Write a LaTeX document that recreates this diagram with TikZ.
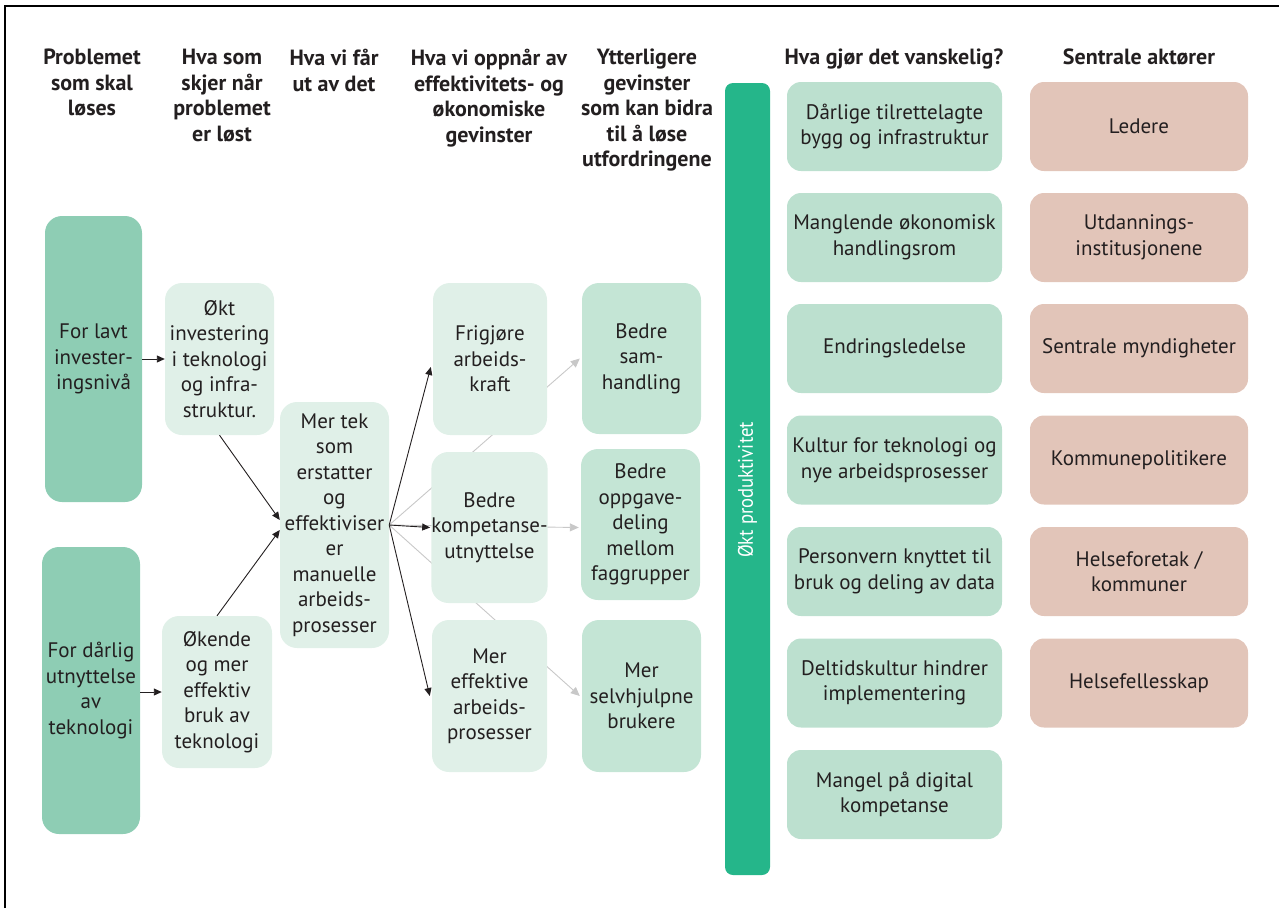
\documentclass[tikz,border=0pt]{standalone}
\usepackage{fontspec}
\setmainfont{PT Sans}
\usetikzlibrary{arrows.meta}
\definecolor{txt}{HTML}{231F20}
\definecolor{dkgreen}{HTML}{8ECDB4}
\definecolor{ltgreen}{HTML}{E0F0E8}
\definecolor{mdgreen}{HTML}{C4E5D5}
\definecolor{bargreen}{HTML}{25B68A}
\definecolor{hardgreen}{HTML}{BCE0CF}
\definecolor{rose}{HTML}{E2C5B9}
\definecolor{greyline}{HTML}{C8C8C8}
\pgfdeclarelayer{bg}
\pgfsetlayers{bg,main}
\tikzset{
  box/.style={rounded corners=17pt, align=center, text=txt, inner sep=0pt,
    font=\fontsize{21}{25.5}\selectfont},
  head/.style={align=center, text=txt, inner sep=0pt, anchor=north,
    font=\fontsize{22}{25.5}\selectfont\bfseries},
  arr/.style={draw=txt, line width=0.9pt, -{Triangle[length=8pt,width=7pt]}},
  garr/.style={draw=greyline, line width=0.9pt, -{Triangle[length=9pt,width=8pt]}},
}
\begin{document}
\begin{tikzpicture}[x=1pt,y=-1pt]
\useasboundingbox (0,0) rectangle (1279,908);
\draw[line width=2pt] (5,908) -- (5,6) -- (1279,6);

% headers
\node[head] (h1) at (92,49) {Problemet\\som skal\\løses};
\node[head] (h2) at (222,49) {Hva som\\skjer når\\problemet\\er løst};
\node[head] (h3) at (334,49) {Hva vi får\\ut av det};
\node[head] (h4) at (489,49) {Hva vi oppnår av\\effektivitets- og\\økonomiske\\gevinster};
\node[head] (h5) at (647,49) {Ytterligere\\gevinster\\som kan bidra\\til å løse\\utfordringene};
\node[head] (h6) at (894,49) {Hva gjør det vanskelig?};
\node[head] (h7) at (1139,49) {Sentrale aktører};

% column 1
\node[box, fill=dkgreen, minimum width=97pt, minimum height=286pt] (lavt) at (93.5,359) {For lavt\\invester-\\ingsnivå};
\node[box, fill=dkgreen, minimum width=98pt, minimum height=287pt] (darlig) at (91,690.5) {For dårlig\\utnyttelse\\av\\teknologi};
% column 2
\node[box, fill=ltgreen, minimum width=109pt, minimum height=152pt] (okt) at (219.5,359) {Økt\\investering\\i teknologi\\og infra-\\struktur.};
\node[box, fill=ltgreen, minimum width=110pt, minimum height=152pt] (okende) at (217,692) {Økende\\og mer\\effektiv\\bruk av\\teknologi};
% column 3
\node[box, fill=ltgreen, minimum width=109pt, minimum height=246pt] (mertek) at (334.5,525) {Mer tek\\som\\erstatter\\og\\effektiviser\\er\\manuelle\\arbeids-\\prosesser};
% column 4
\node[box, fill=ltgreen, minimum width=114pt, minimum height=152pt] (frig) at (490,359) {Frigjøre\\arbeids-\\kraft};
\node[box, fill=ltgreen, minimum width=115pt, minimum height=151pt] (komp) at (489.5,527.5) {Bedre\\kompetanse-\\utnyttelse};
\node[box, fill=ltgreen, minimum width=115pt, minimum height=152pt] (eff) at (489.5,696) {Mer\\effektive\\arbeids-\\prosesser};
% column 5
\node[box, fill=mdgreen, minimum width=119pt, minimum height=151pt] (samh) at (641.5,358.5) {Bedre\\sam-\\handling};
\node[box, fill=mdgreen, minimum width=119pt, minimum height=151pt] (oppg) at (640.5,524.5) {Bedre\\oppgave-\\deling\\mellom\\faggrupper};
\node[box, fill=mdgreen, minimum width=119pt, minimum height=152pt] (selv) at (641.5,696) {Mer\\selvhjulpne\\brukere};
% bar
\node[box, rounded corners=8pt, fill=bargreen, minimum width=45pt, minimum height=792pt] (bar) at (747.5,479) {};
\node[text=white, rotate=90, inner sep=0pt, font=\fontsize{21}{24}\selectfont] (bartxt) at (747.5,490) {\scalebox{0.89}[1]{Økt produktivitet}};

% column 7
\node[box, rounded corners=14pt, fill=hardgreen, minimum width=215pt, minimum height=89pt] (v1) at (894.5,126.5) {Dårlige tilrettelagte\\bygg og infrastruktur};
\node[box, rounded corners=14pt, fill=hardgreen, minimum width=215pt, minimum height=89pt] (v2) at (894.5,237.5) {Manglende økonomisk\\handlingsrom};
\node[box, rounded corners=14pt, fill=hardgreen, minimum width=215pt, minimum height=89pt] (v3) at (894.5,348.5) {Endringsledelse};
\node[box, rounded corners=14pt, fill=hardgreen, minimum width=215pt, minimum height=89pt] (v4) at (894.5,460) {Kultur for teknologi og\\nye arbeidsprosesser};
\node[box, rounded corners=14pt, fill=hardgreen, minimum width=215pt, minimum height=89pt] (v5) at (894.5,571.5) {Personvern knyttet til\\bruk og deling av data};
\node[box, rounded corners=14pt, fill=hardgreen, minimum width=215pt, minimum height=89pt] (v6) at (894.5,683) {Deltidskultur hindrer\\implementering};
\node[box, rounded corners=14pt, fill=hardgreen, minimum width=215pt, minimum height=89pt] (v7) at (894.5,794.5) {Mangel på digital\\kompetanse};
% column 8
\node[box, rounded corners=14pt, fill=rose, minimum width=218pt, minimum height=89pt] (a1) at (1139,126.5) {Ledere};
\node[box, rounded corners=14pt, fill=rose, minimum width=218pt, minimum height=89pt] (a2) at (1139,237.5) {Utdannings-\\institusjonene};
\node[box, rounded corners=14pt, fill=rose, minimum width=218pt, minimum height=89pt] (a3) at (1139,348.5) {Sentrale myndigheter};
\node[box, rounded corners=14pt, fill=rose, minimum width=218pt, minimum height=89pt] (a4) at (1139,460) {Kommunepolitikere};
\node[box, rounded corners=14pt, fill=rose, minimum width=218pt, minimum height=89pt] (a5) at (1139,571.5) {Helseforetak /\\kommuner};
\node[box, rounded corners=14pt, fill=rose, minimum width=218pt, minimum height=89pt] (a6) at (1139,683) {Helsefellesskap};

% grey arrows behind boxes
\begin{pgfonlayer}{bg}
\draw[garr] (mertek.east) -- ([xshift=-2pt]samh.west);
\draw[garr] (mertek.east) -- ([xshift=-2pt]oppg.west |- komp.west);
\draw[garr] (mertek.east) -- ([xshift=-2pt]selv.west);
\end{pgfonlayer}

% black arrows
\draw[arr] (lavt.east) -- (okt.west);
\draw[arr] (okende.west -| darlig.east) -- (okende.west);
\draw[arr] (okt.south) -- ([yshift=5pt]mertek.west);
\draw[arr] (okende.north) -- ([yshift=-5pt]mertek.west);
\draw[arr] (mertek.east) -- ([yshift=-8pt,xshift=-2pt]frig.west);
\draw[arr] (mertek.east) -- ([xshift=-1pt]komp.west);
\draw[arr] (mertek.east) -- ([xshift=-2pt]eff.west);
\end{tikzpicture}
\end{document}
